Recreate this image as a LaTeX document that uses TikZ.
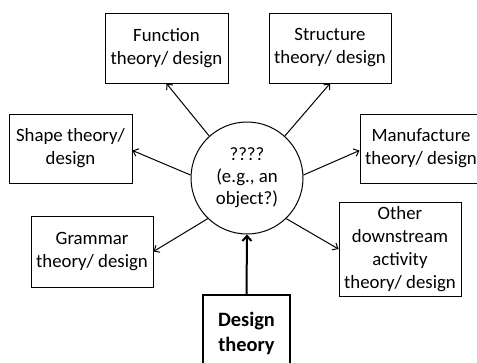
\documentclass[tikz,border=0pt]{standalone}
\usepackage{fontspec}
\setmainfont{Carlito}
\usetikzlibrary{arrows.meta}

\tikzset{
  box/.style={draw=black, line width=1pt, rectangle, align=center, inner sep=2pt,
    font=\fontsize{18.8}{23}\selectfont},
  hub/.style={draw=black, line width=1pt, circle, align=center, inner sep=0pt,
    minimum size=112pt, font=\fontsize{18.8}{22}\selectfont},
  mainbox/.style={draw=black, line width=2pt, rectangle, align=center, inner sep=2pt,
    font=\fontsize{20.4}{25}\selectfont\bfseries},
  link/.style={line width=1pt, -{Straight Barb[length=4.5pt,width=8pt]}},
  mainlink/.style={line width=2pt, -{Straight Barb[length=5pt,width=9pt]}}
}

\begin{document}
\begin{tikzpicture}[x=1pt, y=-1pt]
  \useasboundingbox (0,0) rectangle (477,362);

  % central object
  \node[hub] (obj) at (247,178) {????\\(e.g., an\\object?)};

  % surrounding theory/design boxes
  \node[box, minimum width=123pt, minimum height=70pt] (func)  at (166.5,48)  {Function\\theory/ design};
  \node[box, minimum width=122pt, minimum height=70pt] (struc) at (330,48)    {Structure\\theory/ design};
  \node[box, minimum width=123pt, minimum height=69pt] (shape) at (70.5,148.5) {Shape theory/\\design};
  \node[box, minimum width=122pt, minimum height=69pt] (manu)  at (421,148.5) {Manufacture\\theory/ design};
  \node[box, minimum width=122pt, minimum height=71pt] (gram)  at (92,251.5)  {Grammar\\theory/ design};
  \node[box, minimum width=122pt, minimum height=94pt] (other) at (400,249)   {Other\\downstream\\activity\\theory/ design};

  % design theory feeding the object
  \node[mainbox, minimum width=87pt, minimum height=76pt] (dt) at (246.5,333) {Design\\theory};

  % connectors
  \draw[link] (obj.132) -- (func.south);
  \draw[link] (obj.48)  -- (struc.south);
  \draw[link] (obj.177) -- ([yshift=-2pt]shape.east);
  \draw[link] (obj.3)   -- ([yshift=-2pt]manu.west);
  \draw[link] (obj.226) -- (gram.east);
  \draw[link] (obj.314) -- (other.west);
  \draw[mainlink] (dt.north) -- (obj.south);
\end{tikzpicture}
\end{document}
